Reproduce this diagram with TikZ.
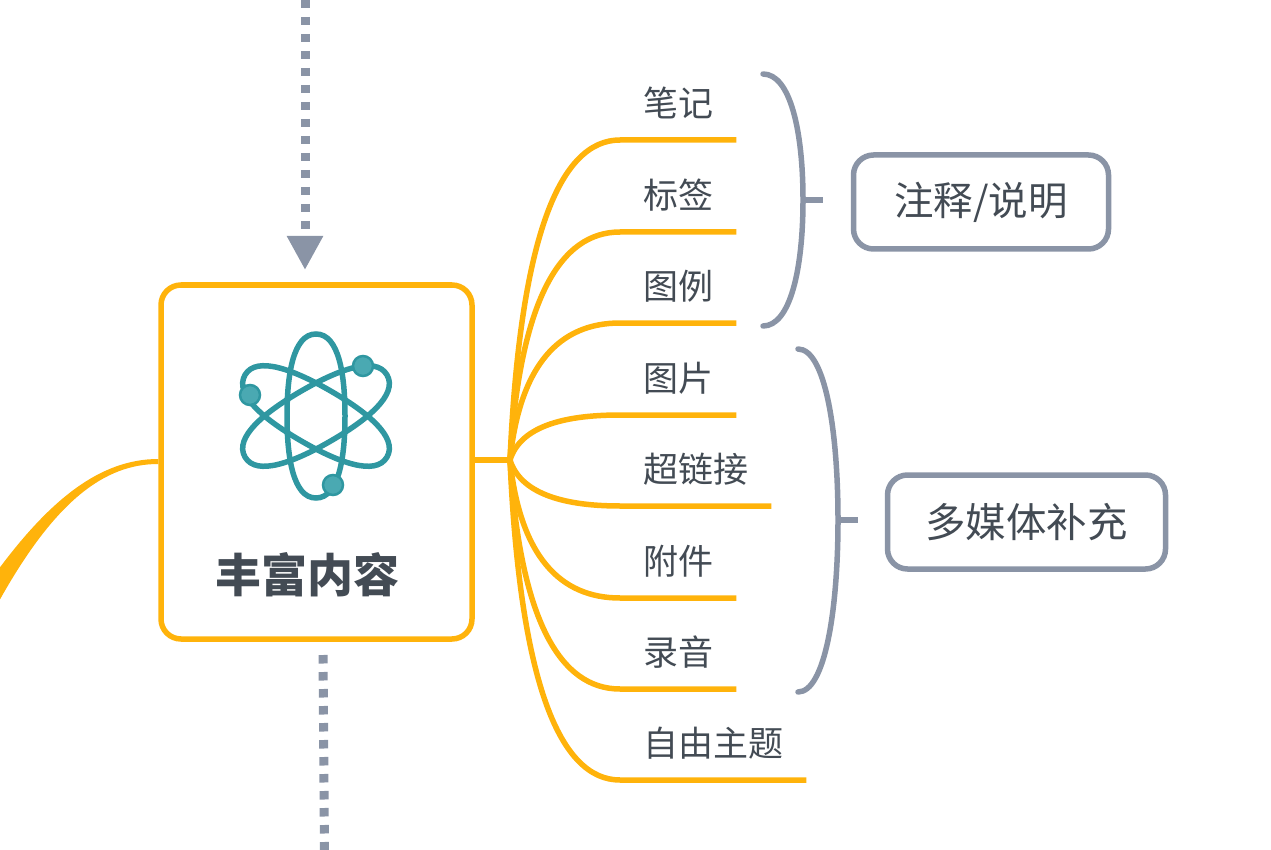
\documentclass[tikz,border=0pt]{standalone}
\usepackage{fontspec}
\setmainfont{Noto Sans CJK SC}
\usetikzlibrary{arrows.meta}
\usetikzlibrary{calc}
\definecolor{amber}{HTML}{FFB30B}
\definecolor{slate}{HTML}{8A94A6}
\definecolor{ink}{HTML}{434B54}
\definecolor{teal1}{HTML}{2F97A1}
\definecolor{teal2}{HTML}{4AA9B2}
\newcommand{\orbitpath}{(29,0) .. controls (29,41) and (23,82) .. (0,82) .. controls (-23,82) and (-29,41) .. (-29,0) .. controls (-29,-41) and (-23,-82) .. (0,-82) .. controls (23,-82) and (29,-41) .. (29,0) -- cycle}
\tikzset{
	leaf/.style={anchor=south west, inner xsep=23pt, inner ysep=0pt, text height=30pt, text depth=23.5pt, text=ink, font=\fontsize{35}{35}\selectfont},
	branch/.style={amber, line width=5.5pt},
	brace/.style={slate, line width=5.5pt, line cap=round},
	note/.style={draw=slate, line width=5.5pt, rounded corners=20pt, fill=white, text=ink, minimum height=94pt},
	link/.style={slate, line width=9pt, dash pattern=on 8.5pt off 8.5pt},
	orbit/.style={teal1, line width=5.5pt},
	ball/.style={teal1, fill=teal2, line width=2.5pt}
}

\begin{document}
\begin{tikzpicture}[x=1pt, y=-1pt]
	\useasboundingbox (0,0) rectangle (1271,850);
	\node (root) [draw=amber, line width=5.5pt, rounded corners=20pt, minimum width=311pt, minimum height=354pt] at (316.5,462) {};
	\node (title) [text=ink, font=\fontsize{46}{46}\selectfont\bfseries] at (307.5,575) {丰富内容};
	\coordinate (hub) at (510,460);
	\coordinate (atom) at (316,416);

	% atom icon
	\draw[orbit, shift={(atom)}] \orbitpath;
	\draw[orbit, shift={(atom)}, rotate=60] \orbitpath;
	\draw[orbit, shift={(atom)}, rotate=-60] \orbitpath;
	\draw[ball] (363,366) circle (10);
	\draw[ball] (250,395) circle (10);
	\draw[ball] (333,485) circle (10);

	% topics
	\node (bij) [leaf] at (620,140) {笔记};
	\node (tag) [leaf] at (620,232) {标签};
	\node (legend) [leaf] at (620,323) {图例};
	\node (image) [leaf] at (620,415) {图片};
	\node (hyper) [leaf] at (620,506) {超链接};
	\node (attach) [leaf] at (620,598) {附件};
	\node (audio) [leaf] at (620,689) {录音};
	\node (free) [leaf] at (620,780) {自由主题};

	\draw[branch] (root.east |- hub) -- (hub);
	\draw[branch] (hub) .. controls +(10,-224) and +(-60,0) .. (bij.south west) -- (bij.south east);
	\draw[branch] (hub) .. controls +(10,-160) and +(-60,0) .. (tag.south west) -- (tag.south east);
	\draw[branch] (hub) .. controls +(10,-96) and +(-60,0) .. (legend.south west) -- (legend.south east);
	\draw[branch] (hub) .. controls +(10,-32) and +(-60,0) .. (image.south west) -- (image.south east);
	\draw[branch] (hub) .. controls +(10,32) and +(-60,0) .. (hyper.south west) -- (hyper.south east);
	\draw[branch] (hub) .. controls +(10,96) and +(-60,0) .. (attach.south west) -- (attach.south east);
	\draw[branch] (hub) .. controls +(10,160) and +(-60,0) .. (audio.south west) -- (audio.south east);
	\draw[branch] (hub) .. controls +(10,224) and +(-60,0) .. (free.south west) -- (free.south east);

	% incoming branch, tapered
	\coordinate (offa) at (-2,570);
	\coordinate (offb) at (-2,603);
	\fill[amber] ($(root.west)+(0,-3)$) .. controls (100,459) and (50,500) .. (offa) -- (offb) .. controls (55,500) and (105,464) .. ($(root.west)+(0,2)$) -- cycle;

	% summaries
	\node (sumnote) [note, minimum width=255pt, font=\fontsize{39.5}{39.5}\selectfont] at (981,202) {注释/说明};
	\node (summedia) [note, minimum width=278pt, font=\fontsize{40.5}{40.5}\selectfont] at (1026.5,522) {多媒体补充};
	\coordinate (bracea) at (803,200);
	\coordinate (braceb) at (838,520);
	\draw[brace] (763,74) .. controls (790,74) and (803,130) .. (bracea) .. controls (803,270) and (790,326) .. (763,326);
	\draw[brace, line cap=butt] (bracea) -- (823,200);
	\draw[brace] (798,349) .. controls (825,349) and (838,430) .. (braceb) .. controls (838,610) and (825,692) .. (798,692);
	\draw[brace, line cap=butt] (braceb) -- (858,520);

	% dotted relations
	\coordinate (uptop) at (305,0);
	\coordinate (uptip) at (305,270);
	\coordinate (downa) at (323,655);
	\coordinate (downb) at (324.5,851);
	\draw[link, -{Triangle[width=34pt, length=34pt]}] (uptop) -- (uptip);
	\draw[link] (downa) -- (downb);
\end{tikzpicture}
\end{document}
